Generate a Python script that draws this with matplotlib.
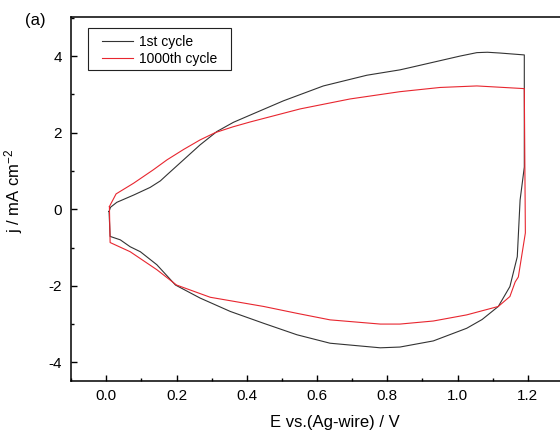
import matplotlib
matplotlib.use("Agg")
import matplotlib.pyplot as plt
from matplotlib.ticker import MultipleLocator
from matplotlib.patches import Rectangle

plt.rcParams['font.family'] = ['Liberation Sans', 'DejaVu Sans']
plt.rcParams['mathtext.default'] = 'regular'
plt.rcParams['axes.unicode_minus'] = False

# 1st cycle (black)
e_first = [0.008, 0.012, 0.03, 0.078, 0.125, 0.154, 0.173, 0.22, 0.267, 0.315,
           0.362, 0.41, 0.504, 0.618, 0.742, 0.836, 0.865, 1.007, 1.055, 1.085,
           1.12, 1.19, 1.19, 1.178, 1.17, 1.149, 1.116, 1.07, 1.026, 0.931,
           0.836, 0.78, 0.637, 0.543, 0.448, 0.353, 0.267, 0.197, 0.144, 0.097,
           0.068, 0.04, 0.011, 0.008]
j_first = [-0.06, 0.05, 0.18, 0.37, 0.57, 0.74, 0.9, 1.29, 1.68, 2.03,
           2.27, 2.46, 2.83, 3.22, 3.50, 3.64, 3.70, 4.0, 4.09, 4.10,
           4.08, 4.03, 1.1, 0.24, -1.24, -2.02, -2.54, -2.88, -3.11, -3.44,
           -3.6, -3.62, -3.5, -3.28, -2.98, -2.67, -2.32, -1.98, -1.45, -1.11,
           -0.98, -0.8, -0.71, -0.06]

# 1000th cycle (red)
e_1000 = [0.009, 0.028, 0.078, 0.134, 0.173, 0.22, 0.267, 0.31, 0.36, 0.41,
          0.552, 0.694, 0.836, 0.95, 1.055, 1.19, 1.193, 1.173, 1.164, 1.149,
          1.116, 1.026, 0.931, 0.836, 0.78, 0.637, 0.543, 0.448, 0.353, 0.296,
          0.2, 0.144, 0.068, 0.011, 0.009]
j_1000 = [0.07, 0.40, 0.68, 1.03, 1.29, 1.56, 1.81, 2.0, 2.15, 2.28,
          2.62, 2.88, 3.07, 3.18, 3.22, 3.15, -0.62, -1.77, -1.90, -2.28,
          -2.54, -2.76, -2.92, -3.0, -3.0, -2.89, -2.72, -2.54, -2.39, -2.3,
          -1.98, -1.58, -1.11, -0.87, 0.07]

x_ticks = [0.0, 0.2, 0.4, 0.6, 0.8, 1.0, 1.2]
y_ticks = [-4, -2, 0, 2, 4]

fig = plt.figure(figsize=(5.6, 4.38), dpi=100)
# axes run past the right edge (picture is cropped there)
ax = fig.add_axes([0.127, 0.129, 0.941, 0.833])

ax.plot(e_first, j_first, color='#333333', lw=0.8, label='1st cycle')
ax.plot(e_1000, j_1000, color='#e8262f', lw=0.8, label='1000th cycle')

ax.set_xlim(-0.1, 1.4)
ax.set_ylim(-4.5, 5.03)
ax.set_xticks(x_ticks, [f"{v:.1f}" for v in x_ticks])
ax.set_yticks(y_ticks, [str(v) for v in y_ticks])
ax.xaxis.set_minor_locator(MultipleLocator(0.1))
ax.yaxis.set_minor_locator(MultipleLocator(1))
ax.tick_params(which='both', direction='in', top=False, right=False,
               labelsize=11, width=1.0)
ax.tick_params(axis='x', which='major', length=4.5, pad=5.3)
ax.tick_params(axis='y', which='major', length=4.5, pad=6.5)
ax.tick_params(which='minor', length=2.5)
for s in ax.spines.values():
    s.set_linewidth(1.1)

ax.set_xlabel('E vs.(Ag-wire) / V', fontsize=12, labelpad=9)
ax.set_ylabel('j / mA cm$^{-2}$', fontsize=12)
ax.yaxis.set_label_coords(-0.087, 0.522)

leg = ax.legend(loc='upper left', bbox_to_anchor=(0.0586, 0.95),
                borderaxespad=0, borderpad=0, fontsize=10, frameon=False,
                handlelength=2.2, handletextpad=0.43, labelspacing=0.2)
ax.add_patch(Rectangle((0.032, 0.854), 0.271, 0.115, transform=ax.transAxes,
                       fill=False, edgecolor='#222222', lw=0.8, zorder=5))

fig.text(35 / 560, 1 - 20.5 / 438, '(a)', fontsize=12, ha='center', va='center')

fig.savefig('out.png', dpi=100)
